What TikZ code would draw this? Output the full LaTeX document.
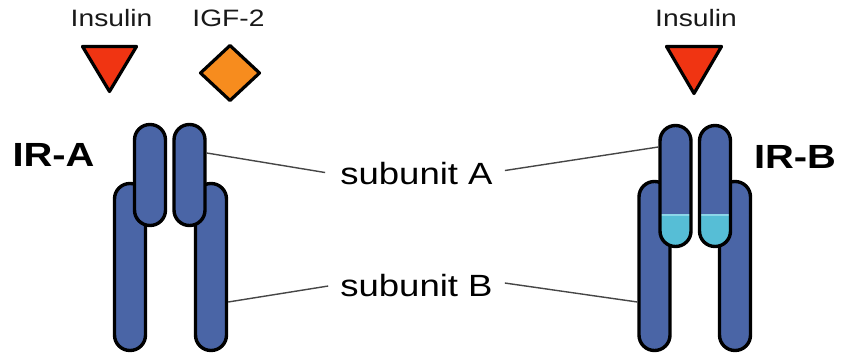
\documentclass[tikz,border=0pt]{standalone}
\usepackage{graphicx}
\usepackage{fontspec}
\setmainfont{Liberation Sans}
\definecolor{recblue}{RGB}{74,101,166}
\definecolor{hingecyan}{RGB}{86,190,214}
\definecolor{hingelight}{RGB}{140,214,232}
\definecolor{insred}{RGB}{240,52,18}
\definecolor{igforange}{RGB}{247,140,30}
\definecolor{leader}{RGB}{70,70,70}
% horizontally widened lettering
\newcommand\widetext[1]{\scalebox{1.19}[1]{#1}}
\begin{document}
\begin{tikzpicture}[x=1pt,y=-1pt,
  capsule/.style={draw=black, line width=3.4pt, fill=recblue,
    rounded corners=15.4pt, minimum width=31pt, inner sep=0pt},
  hinged/.style={capsule, path picture={
    \fill[hingecyan, sharp corners] ([yshift=-2pt]path picture bounding box.south west)
      rectangle ([yshift=32.5pt]path picture bounding box.south east);
    \fill[hingelight, sharp corners] ([yshift=30.5pt]path picture bounding box.south west)
      rectangle ([yshift=32.5pt]path picture bounding box.south east);}},
  ligand/.style={draw=black, line width=3.2pt, line join=round},
  smalllabel/.style={anchor=base, inner sep=0pt, text=black!90,
    font=\fontsize{23.7}{28}\selectfont},
  sublabel/.style={anchor=base, inner sep=0pt, text=black,
    font=\fontsize{30.7}{36}\selectfont},
  receptor/.style={anchor=base, inner sep=0pt,
    font=\fontsize{33.5}{40}\selectfont\bfseries},
  leaderline/.style={draw=leader, line width=1.4pt}
]
\useasboundingbox[fill=white] (0,0) rectangle (843,355);

% ---- IR-A receptor ----
\node[capsule, minimum height=167pt] (aBL) at (130,267) {};
\node[capsule, minimum height=167pt] (aBR) at (211,267) {};
\node[capsule, minimum height=101pt] (aAL) at (150,175) {};
\node[capsule, minimum height=101pt] (aAR) at (189.5,175) {};

% ---- IR-B receptor ----
\node[capsule, minimum height=169pt] (bBL) at (654.5,266) {};
\node[capsule, minimum height=169pt] (bBR) at (735,266) {};
\node[hinged, minimum height=121pt] (bAL) at (675.5,186) {};
\node[hinged, minimum height=121pt] (bAR) at (715,186) {};

% ---- ligands ----
\draw[ligand, fill=insred] (82.5,46.5) -- (136.5,46.5) -- (109.5,91.5) -- cycle;
\draw[ligand, fill=igforange] (230,45.5) -- (259.5,73) -- (230,100.5) -- (200.5,73) -- cycle;
\draw[ligand, fill=insred] (666.5,46.5) -- (721.5,46.5) -- (694,93.5) -- cycle;

% ---- labels ----
\node[smalllabel] (insA) at (111.5,27) {\widetext{Insulin}};
\node[smalllabel] (igf) at (228.5,27) {\widetext{IGF-2}};
\node[smalllabel] (insB) at (696,27) {\widetext{Insulin}};
\node[receptor] (irA) at (53.5,167) {\widetext{IR-A}};
\node[receptor] (irB) at (795,169) {\widetext{IR-B}};
\node[sublabel] (subA) at (416.5,185) {\widetext{subunit A}};
\node[sublabel] (subB) at (416.5,297) {\widetext{subunit B}};

% ---- leader lines ----
\draw[leaderline] ([xshift=-15pt,yshift=1.5pt]subA.west) -- ([yshift=22pt]aAR.east);
\draw[leaderline] ([xshift=12pt,yshift=3.5pt]subA.east) -- ([yshift=39pt]bAL.west);
\draw[leaderline] ([xshift=-12pt]subB.west) -- ([yshift=-35pt]aBR.east);
\draw[leaderline] ([xshift=12pt,yshift=3pt]subB.east) -- ([yshift=-36pt]bBL.west);
\end{tikzpicture}
\end{document}
